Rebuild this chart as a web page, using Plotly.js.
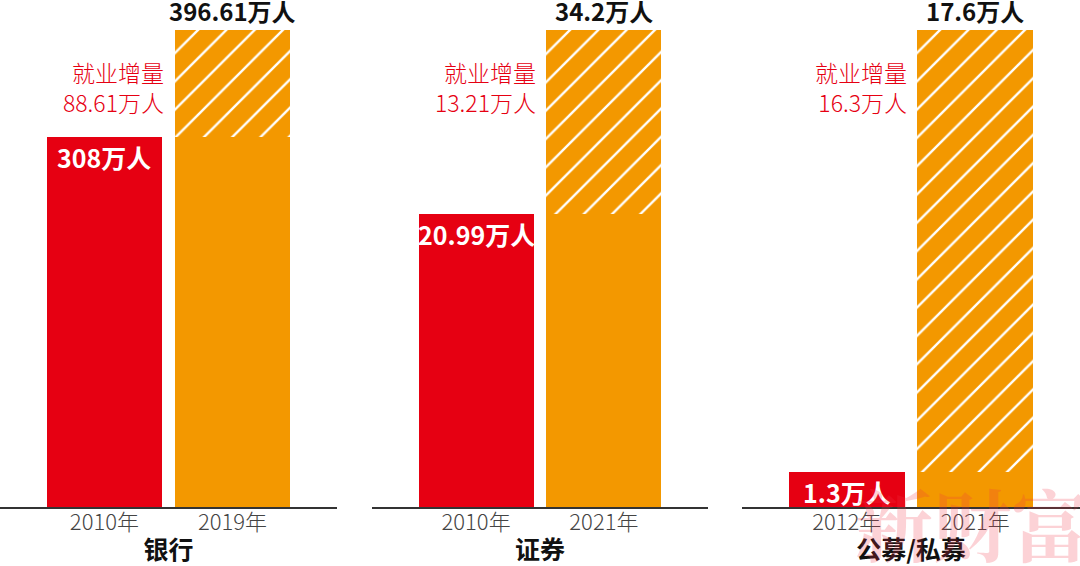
<!DOCTYPE html>
<html>
<head>
<meta charset="utf-8">
<script src="https://cdn.plot.ly/plotly-3.0.1.min.js"></script>
<style>html,body{margin:0;padding:0;background:#fff;}#chart{width:1080px;height:566px;}</style>
</head>
<body>
<div id="chart"></div>
<script>
// ---- data ----
const groups = ['银行', '证券', '公募/私募'];
const yearsOld = ['2010年', '2010年', '2012年'];
const yearsNew = ['2019年', '2021年', '2021年'];
const oldVals = [308, 20.99, 1.3];
const newVals = [396.61, 34.2, 17.6];
const increments = [88.61, 13.21, 16.3];

// ---- styles ----
const RED = '#e60012';
const ORANGE = '#f39800';
const FONT = '"Noto Sans CJK SC", "Noto Sans", sans-serif';
const domains = [[0, 0.312], [0.3444, 0.6556], [0.687, 1]];
const BARW = 0.9;

const traces = [];
const annotations = [];
const layout = {
  width: 1080, height: 566,
  margin: {l: 0, r: 0, t: 30, b: 59},
  paper_bgcolor: '#fff', plot_bgcolor: '#fff',
  barmode: 'stack',
  showlegend: false,
  font: {family: FONT},
  annotations: annotations
};

groups.forEach((g, i) => {
  const xa = 'x' + (i + 1), ya = 'y' + (i + 1);
  traces.push({
    type: 'bar', x: [yearsOld[i], yearsNew[i]], y: [oldVals[i], oldVals[i]],
    xaxis: xa, yaxis: ya, width: BARW,
    marker: {color: [RED, ORANGE], line: {width: 0}},
    hoverinfo: 'skip'
  });
  traces.push({
    type: 'bar', x: [yearsNew[i]], y: [increments[i]],
    xaxis: xa, yaxis: ya, width: BARW,
    marker: {color: ORANGE, line: {width: 0},
      pattern: {shape: '/', fillmode: 'replace', bgcolor: ORANGE, fgcolor: '#ffffff', size: 20, solidity: 0.12}},
    hoverinfo: 'skip'
  });
  const axKey = 'xaxis' + (i === 0 ? '' : i + 1);
  const ayKey = 'yaxis' + (i === 0 ? '' : i + 1);
  layout[axKey] = {
    domain: domains[i], anchor: ya, type: 'category',
    categoryorder: 'array', categoryarray: [yearsOld[i], yearsNew[i]],
    range: [-0.815, 1.815], fixedrange: true,
    showline: true, linecolor: '#333', linewidth: 1.5,
    showgrid: false, zeroline: false, ticks: '',
    ticklabelstandoff: -5,
    tickfont: {size: 22, color: '#444', family: FONT, weight: 300},
    title: {text: '<b>' + g + '</b>', font: {size: 25, color: '#111', family: FONT}, standoff: 8}
  };
  layout[ayKey] = {
    domain: [0, 1], anchor: xa, range: [0, newVals[i]], fixedrange: true,
    showgrid: false, zeroline: false, showticklabels: false, showline: false, ticks: ''
  };
  // top value
  annotations.push({
    xref: xa, yref: ya, x: yearsNew[i], y: newVals[i], yanchor: 'bottom', xanchor: 'center',
    text: '<b>' + newVals[i] + '万人</b>', showarrow: false,
    font: {size: 24, color: '#111', family: FONT}
  });
  // old value inside red bar
  annotations.push({
    xref: xa, yref: ya, x: yearsOld[i], y: oldVals[i], yanchor: 'top', xanchor: 'center',
    text: '<b>' + oldVals[i] + '万人</b>', showarrow: false,
    font: {size: 25, color: '#fff', family: FONT}
  });
  // increment label
  annotations.push({
    xref: xa, yref: 'paper', x: BARW / 2, y: 0.88, xanchor: 'right', yanchor: 'middle', align: 'right',
    xshift: 4,
    text: '就业增量<br>' + increments[i] + '万人', showarrow: false,
    font: {size: 23, color: RED, family: FONT, weight: 300}
  });
});

// watermark
annotations.push({
  xref: 'paper', yref: 'paper', x: 0.9, y: 0.09, xanchor: 'center', yanchor: 'top',
  text: '<b>新财富</b>', showarrow: false,
  font: {size: 78, color: 'rgba(240,50,70,0.22)', family: '"Noto Serif CJK SC", "Noto Sans CJK SC", serif'}
});

Plotly.newPlot('chart', traces, layout, {displayModeBar: false, staticPlot: true});
</script>
</body>
</html>
